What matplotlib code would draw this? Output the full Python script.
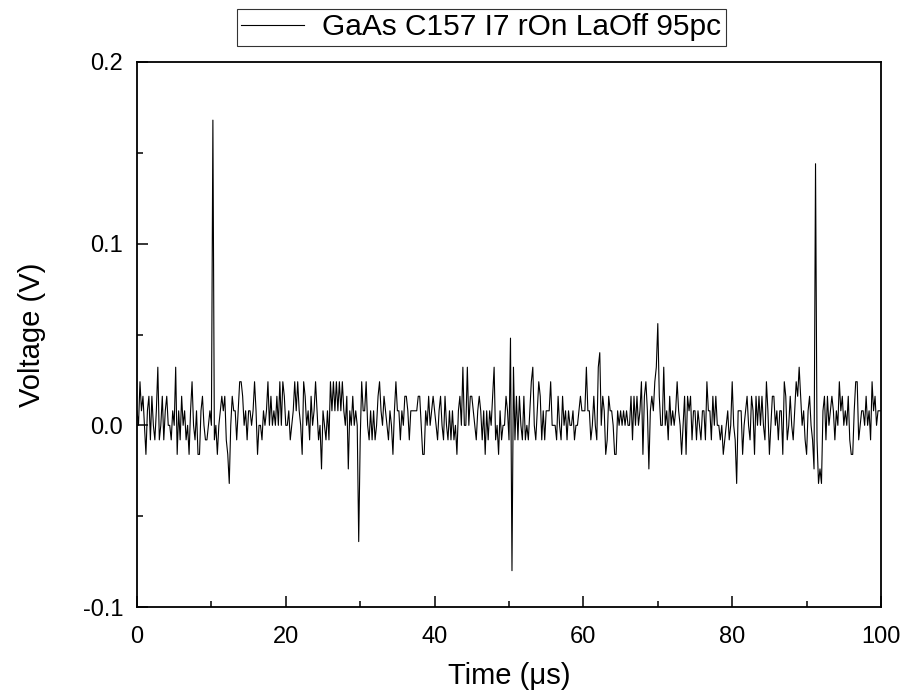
import numpy as np
import matplotlib
matplotlib.use("Agg")
import matplotlib.pyplot as plt
from matplotlib.ticker import MultipleLocator, FormatStrFormatter

plt.rcParams['font.family'] = ['Liberation Sans', 'DejaVu Sans']
plt.rcParams['axes.unicode_minus'] = False

# ADC step of the recorded trace (volts per count)
lsb_volts = 0.008

# Voltage trace in ADC counts, one list per 10 us segment (0.2 us sampling)
seg_00_10 = [1, 0, 3, 1, 2, 0, -2, 1, 2, -1, 2, 0, -1, 1, 4, -1, 0, 2, -1, 1,
             2, 0, 0, -1, 1, 0, 4, -2, 1, -1, 2, 0, 1, -1, 0, -2, 1, 3, 0, -1,
             1, -2, -2, 1, 2, 0, -1, -1, 0, 1]
seg_10_20 = [0, 21, -1, 0, -2, 0, 1, 2, 1, 2, -1, -2, -4, 0, 2, 1, 1, -1, 1, 3,
             3, 2, 0, 1, -1, 1, 1, 0, 1, 3, 1, -2, 0, 0, -1, 1, 0, 1, 3, 0,
             2, 0, 1, 0, 2, 0, 3, 0, 3, 2]
seg_20_30 = [0, 0, 1, -1, 0, 1, 3, 1, 3, 1, 0, -2, 3, 2, 0, 1, -1, 2, 0, 1,
             3, 1, -1, 0, -3, 1, 0, -1, 1, -1, 3, 1, 3, 1, 3, 1, 3, 1, 3, 1,
             0, 2, -3, 1, 0, 2, 0, 1, 0, -8]
seg_30_40 = [-1, 3, 1, 1, 3, 0, -1, 1, -1, 1, -1, 0, 2, 3, 1, 0, 2, 1, 0, -1,
             1, 0, -2, 1, 3, 1, 1, -1, 1, 0, 2, 2, 1, -1, 1, 1, 1, 1, 1, 2,
             2, 0, -2, -2, 1, 0, 2, 0, 1, 2]
seg_40_50 = [1, 0, -1, 1, 2, 0, -1, 2, 0, -1, 1, -1, 1, -1, 0, -2, 1, 2, 0, 4,
             0, 0, 4, 0, 2, 2, 1, 0, -1, 1, 2, 1, -1, 1, -2, 1, -1, 1, 0, 2,
             4, -1, 0, -2, 1, -1, 0, 0, 2, 1]
seg_50_60 = [-1, 6, -10, 4, -1, 2, -1, 2, 0, -1, 2, -1, 0, -1, 1, 3, 4, 0, -1, 1,
             3, 2, -1, 1, -1, 1, 1, 1, 3, 0, 0, 0, -1, 2, 0, -1, 2, 0, 1, -1,
             1, 0, 0, 1, -1, 0, 0, 1, 2, 1]
seg_60_70 = [1, 1, 4, 1, 1, -1, 0, 2, 0, -1, 4, 5, 0, 2, 1, -2, -1, 2, 1, 1,
             0, -2, -2, 1, 0, 1, 0, 1, 0, 1, 0, 0, 2, -1, 2, 0, 2, 0, 1, 3,
             -2, 2, 3, 1, -3, 1, 2, 1, 3, 4]
seg_70_80 = [7, 2, 0, 0, 4, 0, 1, -1, 2, 0, 1, 0, 1, 3, 1, 0, -2, 0, 2, -2,
             2, 1, 2, -1, 1, 1, -1, 1, 0, -1, 1, 1, -1, 3, 1, 1, -1, 2, 0, 2,
             0, 0, -1, 0, -2, -1, 0, 1, -1, 0]
seg_80_90 = [3, 0, -1, -4, 1, 1, 1, -2, 0, 1, 2, 0, -1, 2, 1, -2, 2, 0, 2, 0,
             2, 0, -1, 3, 1, -2, 0, 2, 2, 0, 1, -1, 1, 1, -2, 3, 2, -1, 0, 2,
             0, -1, 1, 3, 2, 4, 2, 0, 1, -1]
seg_90_100 = [-2, 1, 2, 0, -1, -3, 18, -1, -4, -3, -4, 1, 2, -1, 2, 0, 1, 2, 1, -1,
              1, 0, 3, 1, 2, 0, 1, 0, 2, -1, -2, -2, 1, 3, 3, -1, 0, 1, 1, 0,
              2, 0, 1, -1, 3, 1, 2, 0, 1, 1, 1]

segments = [seg_00_10, seg_10_20, seg_20_30, seg_30_40, seg_40_50,
            seg_50_60, seg_60_70, seg_70_80, seg_80_90, seg_90_100]
counts = np.concatenate([np.array(s, dtype=float) for s in segments])
voltage = counts * lsb_volts
t_start, t_end = 0.0, 100.0
time_us = np.linspace(t_start, t_end, len(voltage))

series_label = "GaAs C157 I7 rOn LaOff 95pc"
x_ticks = [0, 20, 40, 60, 80, 100]
y_ticks = [-0.1, 0.0, 0.1, 0.2]

fig = plt.figure(figsize=(9.05, 6.96), dpi=100)
ax = fig.add_axes([137/905, 1-607/696, (881-137)/905, (607-62)/696])
line, = ax.plot(time_us, voltage, color='black', linewidth=0.8, label=series_label)

ax.set_xlim(0, 100)
ax.set_ylim(-0.1, 0.2)
ax.set_xticks(x_ticks)
ax.set_yticks(y_ticks)
ax.xaxis.set_minor_locator(MultipleLocator(10))
ax.yaxis.set_minor_locator(MultipleLocator(0.05))
ax.yaxis.set_major_formatter(FormatStrFormatter('%.1f'))
ax.tick_params(which='both', direction='in', top=False, right=False,
               labelsize=17, width=1.1)
ax.tick_params(axis='x', which='major', pad=14)
ax.tick_params(axis='y', which='major', pad=10)
ax.tick_params(which='major', length=8)
ax.tick_params(which='minor', length=4)
for s in ax.spines.values():
    s.set_linewidth(1.3)

ax.set_xlabel("Time (μs)", fontsize=21, labelpad=10)
ax.set_ylabel("Voltage (V)", fontsize=21, labelpad=26)

leg = fig.legend(handles=[line], loc='upper left',
                 bbox_to_anchor=(237/905, 1-9/696), fontsize=21.5,
                 frameon=True, fancybox=False, shadow=False,
                 handlelength=2.1, handletextpad=0.6, borderpad=0.15,
                 borderaxespad=0)
leg.get_frame().set_edgecolor('black')
leg.get_frame().set_linewidth(0.8)

fig.savefig("out.png", dpi=100)
